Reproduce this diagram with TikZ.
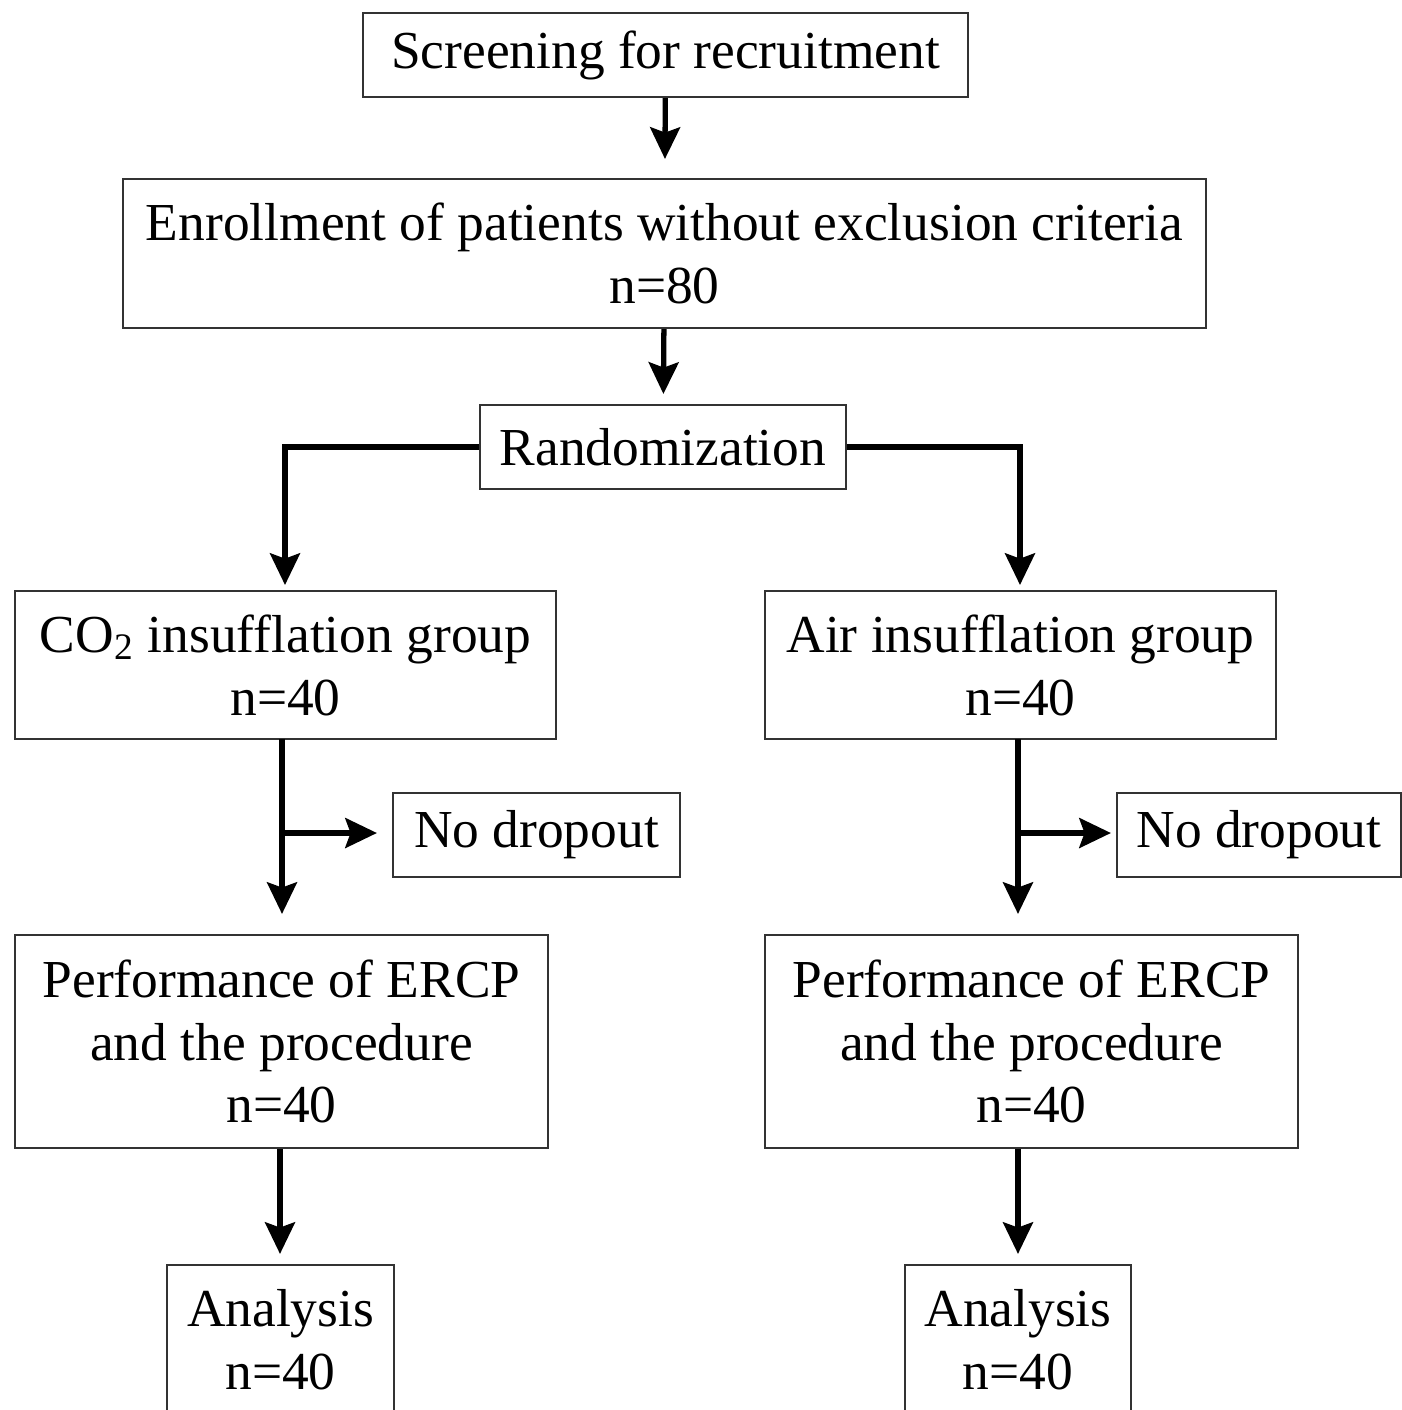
\documentclass[tikz,border=0pt]{standalone}
\usepackage{fontspec}
\setmainfont{Liberation Serif}
\usetikzlibrary{arrows.meta, positioning}

\begin{document}
\begin{tikzpicture}[
  box/.style={draw=black!80, line width=0.6pt, align=center, inner sep=0pt,
    font=\fontsize{15.2}{17.9}\selectfont},
  flow/.style={line width=1.5pt, -{Stealth[length=9pt,width=8.5pt,inset=1.5pt]}}
]
\useasboundingbox (0,0) rectangle (14.02,-14.10);
\clip (0,0) rectangle (14.02,-14.10);
%top part
\node[box, minimum width=6.05cm, minimum height=0.84cm] (screen) at (6.655,-0.55) {Screening for recruitment};
\node[box, minimum width=10.83cm, minimum height=1.49cm] (enroll) at (6.645,-2.535) {Enrollment of patients without exclusion criteria\\n=80};
\node[box, minimum width=3.66cm, minimum height=0.84cm] (rand) at (6.63,-4.47) {Randomization};
%left branch
\node[box, minimum width=5.41cm, minimum height=1.48cm] (co2) at (2.855,-6.65) {CO\textsubscript{2} insufflation group\\n=40};
\node[box, minimum width=2.87cm, minimum height=0.84cm] (dropA) at (5.365,-8.35) {No dropout};
\node[box, minimum width=5.33cm, minimum height=2.13cm] (perfA) at (2.815,-10.415) {Performance of ERCP\\and the procedure\\n=40};
\node[box, minimum width=2.27cm, minimum height=1.50cm] (anaA) at (2.805,-13.40) {Analysis\\n=40};
%right branch
\node[box, minimum width=5.11cm, minimum height=1.48cm] (air) at (10.205,-6.65) {Air insufflation group\\n=40};
\node[box, minimum width=2.84cm, minimum height=0.84cm] (dropB) at (12.59,-8.35) {No dropout};
\node[box, minimum width=5.33cm, minimum height=2.13cm] (perfB) at (10.315,-10.415) {Performance of ERCP\\and the procedure\\n=40};
\node[box, minimum width=2.26cm, minimum height=1.50cm] (anaB) at (10.18,-13.40) {Analysis\\n=40};
%arrows down the middle
\draw[flow, shorten >=0.19cm] (screen) -- (enroll);
\draw[flow, shorten >=0.10cm] (enroll) -- (rand);
\draw[flow, shorten >=0.06cm] (rand.west) -| (2.85,-5.91);
\draw[flow, shorten >=0.06cm] (rand.east) -| (10.2,-5.91);
%left arrows
\coordinate (splitA) at (2.82,-8.33);
\draw[flow, shorten >=0.20cm] (2.82,-7.39) -- (perfA.north -| splitA);
\draw[flow, shorten >=0.15cm] (splitA) -- (dropA.west |- splitA);
\draw[flow, shorten >=0.10cm] (perfA.south -| 2.80,0) -- (anaA.north -| 2.80,0);
%right arrows
\coordinate (splitB) at (10.18,-8.33);
\draw[flow, shorten >=0.20cm] (10.18,-7.39) -- (perfB.north -| splitB);
\draw[flow, shorten >=0.05cm] (splitB) -- (dropB.west |- splitB);
\draw[flow, shorten >=0.10cm] (perfB.south -| splitB) -- (anaB.north -| splitB);
\end{tikzpicture}
\end{document}
